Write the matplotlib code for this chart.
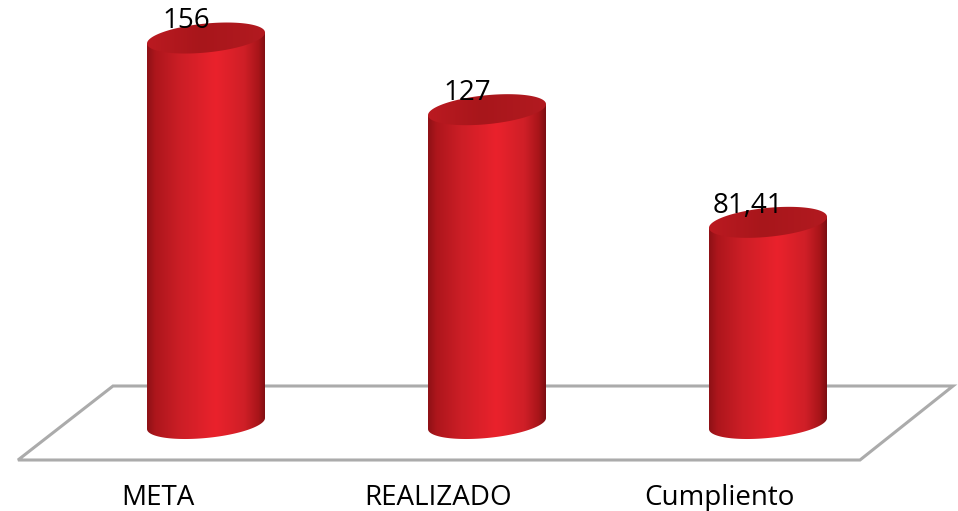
import numpy as np
import matplotlib
matplotlib.use("Agg")
import matplotlib.pyplot as plt
from matplotlib.colors import LinearSegmentedColormap
from matplotlib.patches import Polygon

categories = ["META", "REALIZADO", "Cumpliento"]
values = [156, 127, 81.41]
value_labels = ["156", "127", "81,41"]

WIDTH, HEIGHT = 958, 511
PX_PER_X = 281.0      # pixels between two cylinders
PX_PER_Y = 2.471      # pixels per unit of value
X0_PX, Y0_PX = 206.0, 423.5   # where category 0, value 0 sits

body_cmap = LinearSegmentedColormap.from_list(
    "body", [(0, "#8e1116"), (0.07, "#ad161c"), (0.28, "#cc1e26"), (0.58, "#ea222c"),
             (0.82, "#cf1f27"), (0.94, "#a81519"), (1, "#7c0e12")])
top_cmap = LinearSegmentedColormap.from_list(
    "top", [(0, "#bb1a21"), (0.45, "#a8161b"), (1, "#b21a20")])

fig = plt.figure(figsize=(WIDTH / 100, HEIGHT / 100), dpi=100)
ax = fig.add_axes([0, 0, 1, 1])
ax.axis("off")

half_w = 59 / PX_PER_X
semi_h = 14.5 / PX_PER_Y
tilt = 5.5 / PX_PER_Y


def px(x_px, y_px):
    return (x_px - X0_PX) / PX_PER_X, (Y0_PX - y_px) / PX_PER_Y


# grey floor under the cylinders
floor = Polygon([px(113, 386), px(953, 386), px(860, 460), px(18, 460)], closed=True,
                facecolor="white", edgecolor="#ababab", linewidth=2.2, zorder=1)
ax.add_patch(floor)

t = np.linspace(0, 2 * np.pi, 200)
gradient = np.linspace(0, 1, 256).reshape(1, -1)

for i, value in enumerate(values):
    ex = i + half_w * np.cos(t)
    # the caps are sheared so the right side sits higher
    top_y = value + semi_h * np.sin(t) + tilt * np.cos(t)
    low_y = semi_h * np.sin(t) + tilt * np.cos(t)

    # outline of the body: lower half of the bottom ellipse, then up and over the top
    lower = np.sin(t) <= 0
    order = np.argsort(ex[lower])
    body_x = np.r_[ex[lower][order], i + half_w, i - half_w]
    body_y = np.r_[low_y[lower][order], value + tilt, value - tilt]
    outline = Polygon(np.c_[body_x, body_y], closed=True, transform=ax.transData,
                      facecolor="none", edgecolor="none")
    ax.add_patch(outline)
    body = ax.imshow(gradient, cmap=body_cmap, aspect="auto", zorder=3,
                     extent=[i - half_w, i + half_w, -40, value + 20])
    body.set_clip_path(outline)

    cap = Polygon(np.c_[ex, top_y], closed=True, transform=ax.transData,
                  facecolor="none", edgecolor="none")
    ax.add_patch(cap)
    cap_img = ax.imshow(gradient, cmap=top_cmap, aspect="auto", zorder=4,
                        extent=[i - half_w, i + half_w, value - 20, value + 20])
    cap_img.set_clip_path(cap)

    ax.text(i - 20 / PX_PER_X, value + 6.8, value_labels[i], fontsize=20, family="Open Sans",
            ha="center", va="center", color="black", zorder=5)
    ax.text(i - 48.5 / PX_PER_X, (Y0_PX - 497.5) / PX_PER_Y, categories[i], fontsize=20,
            family="Open Sans", ha="center", va="center", color="black", zorder=5)

ax.set_xlim(-X0_PX / PX_PER_X, (WIDTH - X0_PX) / PX_PER_X)
ax.set_ylim((Y0_PX - HEIGHT) / PX_PER_Y, Y0_PX / PX_PER_Y)

fig.savefig("out.png", dpi=100)
plt.close(fig)
